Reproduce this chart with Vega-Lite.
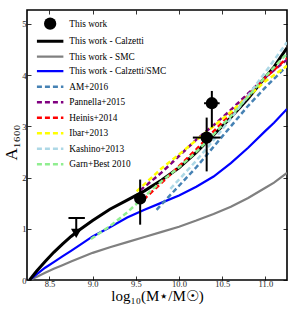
{
  "$schema": "https://vega.github.io/schema/vega-lite/v6.json",
  "width": 260,
  "height": 270,
  "autosize": "none",
  "padding": {"left": 27, "top": 10, "right": 12, "bottom": 30},
  "config": {
    "view": {"stroke": "black", "strokeWidth": 1.6},
    "font": "Liberation Serif",
    "axis": {"labelFont": "Liberation Serif", "titleFont": "Liberation Serif", "titleFontWeight": "normal", "labelColor": "#222", "titleColor": "black", "grid": false, "domain": false, "tickColor": "black", "tickWidth": 0.8},
    "legend": {"orient": "none", "legendX": 18.5, "legendY": 9, "padding": 0, "symbolSize": 100, "symbolType": "stroke", "symbolStrokeWidth": 2.2, "labelFontSize": 9.3, "labelFont": "Liberation Serif", "labelColor": "black", "labelOffset": 14.5, "rowPadding": 4.5, "title": null}
  },
  "datasets": {
    "curves": [
      {"series": "This work - Calzetti", "x": 8.27, "y": 0},
      {"series": "This work - Calzetti", "x": 8.35, "y": 0.17},
      {"series": "This work - Calzetti", "x": 8.45, "y": 0.36},
      {"series": "This work - Calzetti", "x": 8.55, "y": 0.54},
      {"series": "This work - Calzetti", "x": 8.65, "y": 0.70},
      {"series": "This work - Calzetti", "x": 8.75, "y": 0.85},
      {"series": "This work - Calzetti", "x": 8.85, "y": 0.98},
      {"series": "This work - Calzetti", "x": 9.0, "y": 1.16},
      {"series": "This work - Calzetti", "x": 9.2, "y": 1.38},
      {"series": "This work - Calzetti", "x": 9.4, "y": 1.56},
      {"series": "This work - Calzetti", "x": 9.6, "y": 1.74},
      {"series": "This work - Calzetti", "x": 9.8, "y": 1.95},
      {"series": "This work - Calzetti", "x": 10.0, "y": 2.19},
      {"series": "This work - Calzetti", "x": 10.2, "y": 2.49},
      {"series": "This work - Calzetti", "x": 10.4, "y": 2.83},
      {"series": "This work - Calzetti", "x": 10.6, "y": 3.17},
      {"series": "This work - Calzetti", "x": 10.8, "y": 3.54},
      {"series": "This work - Calzetti", "x": 11.0, "y": 3.96},
      {"series": "This work - Calzetti", "x": 11.1, "y": 4.16},
      {"series": "This work - Calzetti", "x": 11.25, "y": 4.53},
      {"series": "This work - SMC", "x": 8.27, "y": 0},
      {"series": "This work - SMC", "x": 8.35, "y": 0.06},
      {"series": "This work - SMC", "x": 8.45, "y": 0.14},
      {"series": "This work - SMC", "x": 8.55, "y": 0.22},
      {"series": "This work - SMC", "x": 8.65, "y": 0.29},
      {"series": "This work - SMC", "x": 8.75, "y": 0.36},
      {"series": "This work - SMC", "x": 8.85, "y": 0.43},
      {"series": "This work - SMC", "x": 9.0, "y": 0.53},
      {"series": "This work - SMC", "x": 9.2, "y": 0.64},
      {"series": "This work - SMC", "x": 9.4, "y": 0.74},
      {"series": "This work - SMC", "x": 9.6, "y": 0.84},
      {"series": "This work - SMC", "x": 9.8, "y": 0.94},
      {"series": "This work - SMC", "x": 10.0, "y": 1.04},
      {"series": "This work - SMC", "x": 10.2, "y": 1.16},
      {"series": "This work - SMC", "x": 10.4, "y": 1.29},
      {"series": "This work - SMC", "x": 10.6, "y": 1.43},
      {"series": "This work - SMC", "x": 10.8, "y": 1.60},
      {"series": "This work - SMC", "x": 11.0, "y": 1.80},
      {"series": "This work - SMC", "x": 11.1, "y": 1.90},
      {"series": "This work - SMC", "x": 11.25, "y": 2.09},
      {"series": "This work - Calzetti/SMC", "x": 8.27, "y": 0},
      {"series": "This work - Calzetti/SMC", "x": 8.35, "y": 0.11},
      {"series": "This work - Calzetti/SMC", "x": 8.45, "y": 0.24},
      {"series": "This work - Calzetti/SMC", "x": 8.55, "y": 0.35},
      {"series": "This work - Calzetti/SMC", "x": 8.65, "y": 0.46},
      {"series": "This work - Calzetti/SMC", "x": 8.75, "y": 0.57},
      {"series": "This work - Calzetti/SMC", "x": 8.85, "y": 0.68},
      {"series": "This work - Calzetti/SMC", "x": 9.0, "y": 0.85},
      {"series": "This work - Calzetti/SMC", "x": 9.2, "y": 1.03},
      {"series": "This work - Calzetti/SMC", "x": 9.4, "y": 1.22},
      {"series": "This work - Calzetti/SMC", "x": 9.6, "y": 1.37},
      {"series": "This work - Calzetti/SMC", "x": 9.8, "y": 1.51},
      {"series": "This work - Calzetti/SMC", "x": 10.0, "y": 1.65},
      {"series": "This work - Calzetti/SMC", "x": 10.2, "y": 1.82},
      {"series": "This work - Calzetti/SMC", "x": 10.4, "y": 2.02},
      {"series": "This work - Calzetti/SMC", "x": 10.6, "y": 2.28},
      {"series": "This work - Calzetti/SMC", "x": 10.8, "y": 2.58},
      {"series": "This work - Calzetti/SMC", "x": 11.0, "y": 2.91},
      {"series": "This work - Calzetti/SMC", "x": 11.1, "y": 3.07},
      {"series": "This work - Calzetti/SMC", "x": 11.25, "y": 3.34},
      {"series": "AM+2016", "x": 9.74, "y": 1.37},
      {"series": "AM+2016", "x": 9.9, "y": 1.66},
      {"series": "AM+2016", "x": 10.0, "y": 1.84},
      {"series": "AM+2016", "x": 10.2, "y": 2.2},
      {"series": "AM+2016", "x": 10.4, "y": 2.6},
      {"series": "AM+2016", "x": 10.6, "y": 3.0},
      {"series": "AM+2016", "x": 10.8, "y": 3.4},
      {"series": "AM+2016", "x": 11.0, "y": 3.76},
      {"series": "AM+2016", "x": 11.25, "y": 4.18},
      {"series": "Pannella+2015", "x": 9.55, "y": 1.75},
      {"series": "Pannella+2015", "x": 9.8, "y": 2.1},
      {"series": "Pannella+2015", "x": 10.0, "y": 2.42},
      {"series": "Pannella+2015", "x": 10.2, "y": 2.74},
      {"series": "Pannella+2015", "x": 10.4, "y": 3.02},
      {"series": "Pannella+2015", "x": 10.6, "y": 3.32},
      {"series": "Pannella+2015", "x": 10.8, "y": 3.64},
      {"series": "Pannella+2015", "x": 11.0, "y": 3.96},
      {"series": "Pannella+2015", "x": 11.25, "y": 4.3},
      {"series": "Heinis+2014", "x": 9.59, "y": 1.57},
      {"series": "Heinis+2014", "x": 9.8, "y": 1.9},
      {"series": "Heinis+2014", "x": 10.0, "y": 2.22},
      {"series": "Heinis+2014", "x": 10.2, "y": 2.55},
      {"series": "Heinis+2014", "x": 10.4, "y": 2.9},
      {"series": "Heinis+2014", "x": 10.6, "y": 3.25},
      {"series": "Heinis+2014", "x": 10.8, "y": 3.6},
      {"series": "Heinis+2014", "x": 11.0, "y": 3.95},
      {"series": "Heinis+2014", "x": 11.25, "y": 4.33},
      {"series": "Ibar+2013", "x": 9.51, "y": 1.73},
      {"series": "Ibar+2013", "x": 9.8, "y": 2.18},
      {"series": "Ibar+2013", "x": 10.0, "y": 2.45},
      {"series": "Ibar+2013", "x": 10.2, "y": 2.73},
      {"series": "Ibar+2013", "x": 10.4, "y": 3.0},
      {"series": "Ibar+2013", "x": 10.6, "y": 3.28},
      {"series": "Ibar+2013", "x": 10.8, "y": 3.58},
      {"series": "Ibar+2013", "x": 11.0, "y": 3.88},
      {"series": "Ibar+2013", "x": 11.25, "y": 4.18},
      {"series": "Kashino+2013", "x": 9.9, "y": 1.78},
      {"series": "Kashino+2013", "x": 10.0, "y": 1.96},
      {"series": "Kashino+2013", "x": 10.2, "y": 2.33},
      {"series": "Kashino+2013", "x": 10.4, "y": 2.73},
      {"series": "Kashino+2013", "x": 10.6, "y": 3.15},
      {"series": "Kashino+2013", "x": 10.8, "y": 3.6},
      {"series": "Kashino+2013", "x": 11.0, "y": 4.06},
      {"series": "Kashino+2013", "x": 11.25, "y": 4.64},
      {"series": "Garn+Best 2010", "x": 8.98, "y": 0.8},
      {"series": "Garn+Best 2010", "x": 9.2, "y": 1.05},
      {"series": "Garn+Best 2010", "x": 9.4, "y": 1.32},
      {"series": "Garn+Best 2010", "x": 9.6, "y": 1.63},
      {"series": "Garn+Best 2010", "x": 9.8, "y": 1.93},
      {"series": "Garn+Best 2010", "x": 10.0, "y": 2.2},
      {"series": "Garn+Best 2010", "x": 10.2, "y": 2.5},
      {"series": "Garn+Best 2010", "x": 10.4, "y": 2.84},
      {"series": "Garn+Best 2010", "x": 10.6, "y": 3.2},
      {"series": "Garn+Best 2010", "x": 10.8, "y": 3.58},
      {"series": "Garn+Best 2010", "x": 11.0, "y": 3.97},
      {"series": "Garn+Best 2010", "x": 11.25, "y": 4.42}
    ],
    "points": [
      {"x": 9.55, "y": 1.59, "ylo": 1.08, "yhi": 1.96, "xlo": 9.55, "xhi": 9.55},
      {"x": 10.32, "y": 2.78, "ylo": 2.12, "yhi": 3.17, "xlo": 10.16, "xhi": 10.48},
      {"x": 10.38, "y": 3.45, "ylo": 2.98, "yhi": 3.69, "xlo": 10.29, "xhi": 10.47}
    ],
    "limits": [
      {"x": 8.81, "y": 0.91, "yhi": 1.21, "xlo": 8.72, "xhi": 8.91}
    ]
  },
  "layer": [
    {
      "data": {"name": "curves"},
      "transform": [{"filter": "datum.series === 'This work - SMC' || datum.series === 'This work - Calzetti/SMC'"}],
      "mark": {"type": "line", "clip": true, "strokeWidth": 2.2},
      "encoding": {
        "x": {"field": "x", "type": "quantitative", "scale": {"domain": [8.24, 11.25], "nice": false, "zero": false},
          "axis": {"orient": "bottom", "values": [8.5, 9.0, 9.5, 10.0, 10.5, 11.0], "format": ".1f", "tickSize": -4, "labelPadding": 3, "labelFontSize": 8.5, "title": "log₁₀(M⋆/M☉)", "titleFontSize": 15, "titlePadding": 1}},
        "y": {"field": "y", "type": "quantitative", "scale": {"domain": [0, 5.27], "nice": false, "zero": false},
          "axis": {"orient": "left", "values": [0, 1, 2, 3, 4, 5], "format": "d", "tickSize": -4, "labelPadding": 5, "labelFontSize": 8.5, "title": "A₁₆₀₀", "titleFontSize": 17, "titleAngle": -90, "titleAlign": "center", "titleBaseline": "bottom", "titleX": -7, "titleY": 132}},
        "color": {"field": "series", "type": "nominal",
          "scale": {"domain": ["This work", "This work - Calzetti", "This work - SMC", "This work - Calzetti/SMC", "AM+2016", "Pannella+2015", "Heinis+2014", "Ibar+2013", "Kashino+2013", "Garn+Best 2010"],
                    "range": ["black", "black", "#808080", "#0000ff", "#4682b4", "#800080", "#ff0000", "#ffff00", "#add8e6", "#90ee90"]},
          "legend": {"title": null, "orient": "none", "legendX": 18.5, "legendY": 9, "padding": 0, "symbolSize": 100, "symbolType": "stroke", "labelFontSize": 9.3, "labelOffset": 14.5, "rowPadding": 4.5,
            "encode": {"symbols": {"update": {
              "shape": {"signal": "datum.value === 'This work' ? 'circle' : 'stroke'"},
              "size": {"signal": "datum.value === 'This work' ? 150 : 700"},
              "fill": {"signal": "datum.value === 'This work' ? 'black' : 'transparent'"},
              "strokeWidth": {"signal": "datum.value === 'This work' ? 0 : (datum.value === 'This work - Calzetti' ? 3 : (indexof(['This work - SMC', 'This work - Calzetti/SMC'], datum.value) >= 0 ? 2.2 : 2.5))"},
              "strokeDash": {"signal": "indexof(['AM+2016', 'Pannella+2015', 'Heinis+2014', 'Ibar+2013', 'Kashino+2013', 'Garn+Best 2010'], datum.value) >= 0 ? [5, 3] : [1, 0]"}
            }}}}}
      }
    },
    {
      "data": {"name": "curves"},
      "transform": [{"filter": "datum.series === 'This work - Calzetti'"}],
      "mark": {"type": "line", "clip": true, "strokeWidth": 3},
      "encoding": {
        "x": {"field": "x", "type": "quantitative", "scale": {"domain": [8.24, 11.25], "nice": false, "zero": false}, "axis": null},
        "y": {"field": "y", "type": "quantitative", "scale": {"domain": [0, 5.27], "nice": false, "zero": false}, "axis": null},
        "color": {"field": "series", "type": "nominal",
          "scale": {"domain": ["This work", "This work - Calzetti", "This work - SMC", "This work - Calzetti/SMC", "AM+2016", "Pannella+2015", "Heinis+2014", "Ibar+2013", "Kashino+2013", "Garn+Best 2010"],
                    "range": ["black", "black", "#808080", "#0000ff", "#4682b4", "#800080", "#ff0000", "#ffff00", "#add8e6", "#90ee90"]},
          "legend": {"title": null, "orient": "none", "legendX": 18.5, "legendY": 9, "padding": 0, "symbolSize": 100, "symbolType": "stroke", "labelFontSize": 9.3, "labelOffset": 14.5, "rowPadding": 4.5,
            "encode": {"symbols": {"update": {
              "shape": {"signal": "datum.value === 'This work' ? 'circle' : 'stroke'"},
              "size": {"signal": "datum.value === 'This work' ? 150 : 700"},
              "fill": {"signal": "datum.value === 'This work' ? 'black' : 'transparent'"},
              "strokeWidth": {"signal": "datum.value === 'This work' ? 0 : (datum.value === 'This work - Calzetti' ? 3 : (indexof(['This work - SMC', 'This work - Calzetti/SMC'], datum.value) >= 0 ? 2.2 : 2.5))"},
              "strokeDash": {"signal": "indexof(['AM+2016', 'Pannella+2015', 'Heinis+2014', 'Ibar+2013', 'Kashino+2013', 'Garn+Best 2010'], datum.value) >= 0 ? [5, 3] : [1, 0]"}
            }}}}}
      }
    },
    {
      "data": {"name": "curves"},
      "transform": [{"filter": "indexof(['AM+2016', 'Pannella+2015', 'Heinis+2014', 'Ibar+2013', 'Kashino+2013', 'Garn+Best 2010'], datum.series) >= 0"}],
      "mark": {"type": "line", "clip": true, "strokeWidth": 2.5, "strokeDash": [5, 3]},
      "encoding": {
        "x": {"field": "x", "type": "quantitative", "scale": {"domain": [8.24, 11.25], "nice": false, "zero": false}, "axis": null},
        "y": {"field": "y", "type": "quantitative", "scale": {"domain": [0, 5.27], "nice": false, "zero": false}, "axis": null},
        "color": {"field": "series", "type": "nominal",
          "scale": {"domain": ["This work", "This work - Calzetti", "This work - SMC", "This work - Calzetti/SMC", "AM+2016", "Pannella+2015", "Heinis+2014", "Ibar+2013", "Kashino+2013", "Garn+Best 2010"],
                    "range": ["black", "black", "#808080", "#0000ff", "#4682b4", "#800080", "#ff0000", "#ffff00", "#add8e6", "#90ee90"]},
          "legend": {"title": null, "orient": "none", "legendX": 18.5, "legendY": 9, "padding": 0, "symbolSize": 100, "symbolType": "stroke", "labelFontSize": 9.3, "labelOffset": 14.5, "rowPadding": 4.5,
            "encode": {"symbols": {"update": {
              "shape": {"signal": "datum.value === 'This work' ? 'circle' : 'stroke'"},
              "size": {"signal": "datum.value === 'This work' ? 150 : 700"},
              "fill": {"signal": "datum.value === 'This work' ? 'black' : 'transparent'"},
              "strokeWidth": {"signal": "datum.value === 'This work' ? 0 : (datum.value === 'This work - Calzetti' ? 3 : (indexof(['This work - SMC', 'This work - Calzetti/SMC'], datum.value) >= 0 ? 2.2 : 2.5))"},
              "strokeDash": {"signal": "indexof(['AM+2016', 'Pannella+2015', 'Heinis+2014', 'Ibar+2013', 'Kashino+2013', 'Garn+Best 2010'], datum.value) >= 0 ? [5, 3] : [1, 0]"}
            }}}}}
      }
    },
    {
      "data": {"name": "points"},
      "mark": {"type": "rule", "color": "black", "strokeWidth": 2},
      "encoding": {
        "x": {"field": "x", "type": "quantitative", "scale": {"domain": [8.24, 11.25], "nice": false, "zero": false}, "axis": null},
        "y": {"field": "ylo", "type": "quantitative", "scale": {"domain": [0, 5.27], "nice": false, "zero": false}, "axis": null},
        "y2": {"field": "yhi"}
      }
    },
    {
      "data": {"name": "points"},
      "mark": {"type": "rule", "color": "black", "strokeWidth": 2},
      "encoding": {
        "x": {"field": "xlo", "type": "quantitative", "scale": {"domain": [8.24, 11.25], "nice": false, "zero": false}, "axis": null},
        "x2": {"field": "xhi"},
        "y": {"field": "y", "type": "quantitative", "scale": {"domain": [0, 5.27], "nice": false, "zero": false}, "axis": null}
      }
    },
    {
      "data": {"name": "points"},
      "mark": {"type": "point", "shape": "circle", "filled": true, "color": "black", "opacity": 1, "size": 150},
      "encoding": {
        "x": {"field": "x", "type": "quantitative", "scale": {"domain": [8.24, 11.25], "nice": false, "zero": false}, "axis": null},
        "y": {"field": "y", "type": "quantitative", "scale": {"domain": [0, 5.27], "nice": false, "zero": false}, "axis": null}
      }
    },
    {
      "data": {"name": "limits"},
      "mark": {"type": "rule", "color": "black", "strokeWidth": 2},
      "encoding": {
        "x": {"field": "x", "type": "quantitative", "scale": {"domain": [8.24, 11.25], "nice": false, "zero": false}, "axis": null},
        "y": {"field": "y", "type": "quantitative", "scale": {"domain": [0, 5.27], "nice": false, "zero": false}, "axis": null},
        "y2": {"field": "yhi"}
      }
    },
    {
      "data": {"name": "limits"},
      "mark": {"type": "rule", "color": "black", "strokeWidth": 2},
      "encoding": {
        "x": {"field": "xlo", "type": "quantitative", "scale": {"domain": [8.24, 11.25], "nice": false, "zero": false}, "axis": null},
        "x2": {"field": "xhi"},
        "y": {"field": "yhi", "type": "quantitative", "scale": {"domain": [0, 5.27], "nice": false, "zero": false}, "axis": null}
      }
    },
    {
      "data": {"name": "limits"},
      "mark": {"type": "point", "shape": "triangle-down", "filled": true, "color": "black", "opacity": 1, "size": 110},
      "encoding": {
        "x": {"field": "x", "type": "quantitative", "scale": {"domain": [8.24, 11.25], "nice": false, "zero": false}, "axis": null},
        "y": {"field": "y", "type": "quantitative", "scale": {"domain": [0, 5.27], "nice": false, "zero": false}, "axis": null}
      }
    },
    {
      "data": {"name": "limits"},
      "mark": {"type": "point", "opacity": 0},
      "encoding": {
        "x": {"field": "x", "type": "quantitative", "scale": {"domain": [8.24, 11.25], "nice": false, "zero": false},
          "axis": {"orient": "top", "values": [8.5, 9.0, 9.5, 10.0, 10.5, 11.0], "labels": false, "tickSize": -4, "title": null}},
        "y": {"field": "y", "type": "quantitative", "scale": {"domain": [0, 5.27], "nice": false, "zero": false},
          "axis": {"orient": "right", "values": [0, 1, 2, 3, 4, 5], "labels": false, "tickSize": -4, "title": null}}
      }
    }
  ],
  "resolve": {"axis": {"x": "independent", "y": "independent"}}
}
